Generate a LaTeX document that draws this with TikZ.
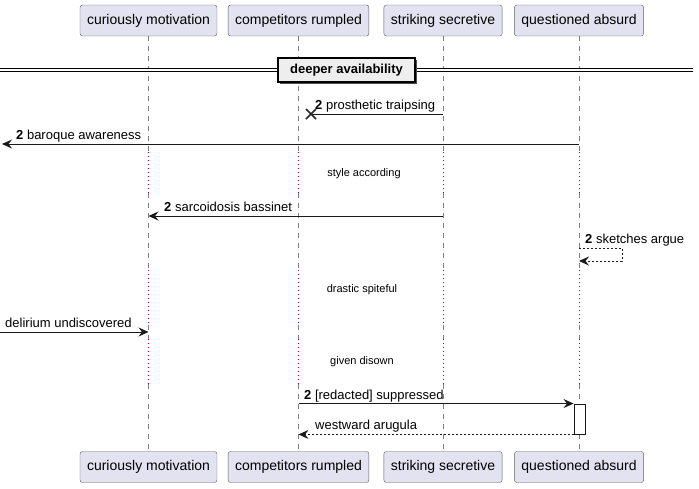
\documentclass[tikz,border=0pt]{standalone}
\usepackage{fontspec}
\setmainfont{Liberation Sans}
\usepackage{xcolor}
\usepackage{tikz}
\usetikzlibrary{arrows.meta, positioning, shadows}
\definecolor{partfill}{HTML}{E2E2F0}
\definecolor{partline}{HTML}{5F5F5F}
\definecolor{delayred}{HTML}{A80036}
\definecolor{divfill}{HTML}{EEEEEE}

\begin{document}
\begin{tikzpicture}[x=1pt, y=-1pt,
    part/.style    ={rectangle, rounded corners=2.5pt, draw=partline, fill=partfill, minimum height=31pt, inner xsep=7pt, font=\fontsize{14}{16}\selectfont},
    lifeline/.style={dash pattern=on 5pt off 5pt, black!50, line width=0.6pt},
    waitline/.style={dash pattern=on 1pt off 3pt, delayred, line width=0.9pt},
    msg/.style     ={-{Stealth[length=10pt, width=9pt, inset=3.5pt]}, line width=0.9pt, black!90},
    reply/.style   ={msg, dash pattern=on 2pt off 2pt},
    mlabel/.style  ={anchor=base west, inner sep=0pt, font=\fontsize{13}{15}\selectfont},
    dlabel/.style  ={inner sep=0pt, font=\fontsize{11}{13}\selectfont},
    divider/.style ={rectangle, draw=black, line width=1.2pt, fill=divfill, minimum width=137pt, minimum height=24pt, font=\fontsize{13}{15}\selectfont\bfseries, drop shadow={shadow xshift=2pt, shadow yshift=-2pt, fill=black!70, opacity=1}},
    actbar/.style  ={rectangle, draw=black!90, fill=white, line width=0.9pt, minimum width=11pt, minimum height=30pt, inner sep=0pt}
]
\useasboundingbox (0,0) rectangle (699,488);
% --- participants, top and bottom ---
\foreach \n/\x/\t in {cur/148.5/curiously motivation, com/298.5/competitors rumpled, str/443/striking secretive, que/579/questioned absurd}{
  \node[part] (\n) at (\x,20.5) {\t};
  \node[part] (\n-b) at (\x,467) {\t};
}
% --- lifelines (dotted where the delays are) ---
\foreach \n in {cur, com, str, que}{
  \draw[lifeline] (\n.south) -- (\n |- 0,152);
  \draw[waitline] (\n |- 0,152) -- (\n |- 0,193);
  \draw[lifeline] (\n |- 0,193) -- (\n |- 0,270);
  \draw[waitline] (\n |- 0,270) -- (\n |- 0,325);
  \draw[lifeline] (\n |- 0,325) -- (\n |- 0,339);
  \draw[waitline] (\n |- 0,339) -- (\n |- 0,384);
  \draw[lifeline] (\n |- 0,384) -- (\n-b.north);
}

% ============ divider ============
\draw[double, double distance=2.4pt, line width=0.9pt] (0,70) -- (693,70);
\node[divider] (div) at (346.5,70) {deeper availability};

% (1) lost message, ends in a cross
\coordinate (lost) at (311,114);
\draw[line width=0.9pt, black!90] (str |- lost) -- (lost);
\draw[line width=1.6pt, black!85] (lost) ++(-5,-5) -- ++(10,10) (lost) ++(-5,5) -- ++(10,-10);
\node[mlabel] (l1) at (315,109) {\textbf{2} prosthetic traipsing};
% (2) out to the left edge
\coordinate (outL) at (2,144);
\draw[msg] (que |- outL) -- (outL);
\node[mlabel] (l2) at (16,139) {\textbf{2} baroque awareness};
\node[dlabel] (d1) at (364,174) {style according};
% (3)
\draw[msg] (str |- 0,216) -- (cur |- 0,216);
\node[mlabel] (l3) at (164,211) {\textbf{2} sarcoidosis bassinet};
% (4) self message
\coordinate (loop) at (622,255);
\draw[reply] (que |- 0,248) -| (loop) |- (que |- 0,261);
\node[mlabel] (l4) at (585,243) {\textbf{2} sketches argue};
\node[dlabel] (d2) at (362,290) {drastic spiteful};
% (5) in from the left edge
\coordinate (inL) at (0,332);
\draw[msg] (inL) -- (cur |- inL);
\node[mlabel] (l5) at (5,327) {delirium undiscovered};
\node[dlabel] (d3) at (362,362) {given disown};

% ============ call and reply with activation ============
\node[actbar] (act) at (579.5,419) {};
\draw[msg] (com |- act.north) -- (act.north west);
\node[mlabel] (l6) at (304,399) {\textbf{2} [redacted] suppressed};
\draw[reply] (act.south west) -- (com |- act.south);
\node[mlabel] (l7) at (315,429) {westward arugula};
\end{tikzpicture}
\end{document}
